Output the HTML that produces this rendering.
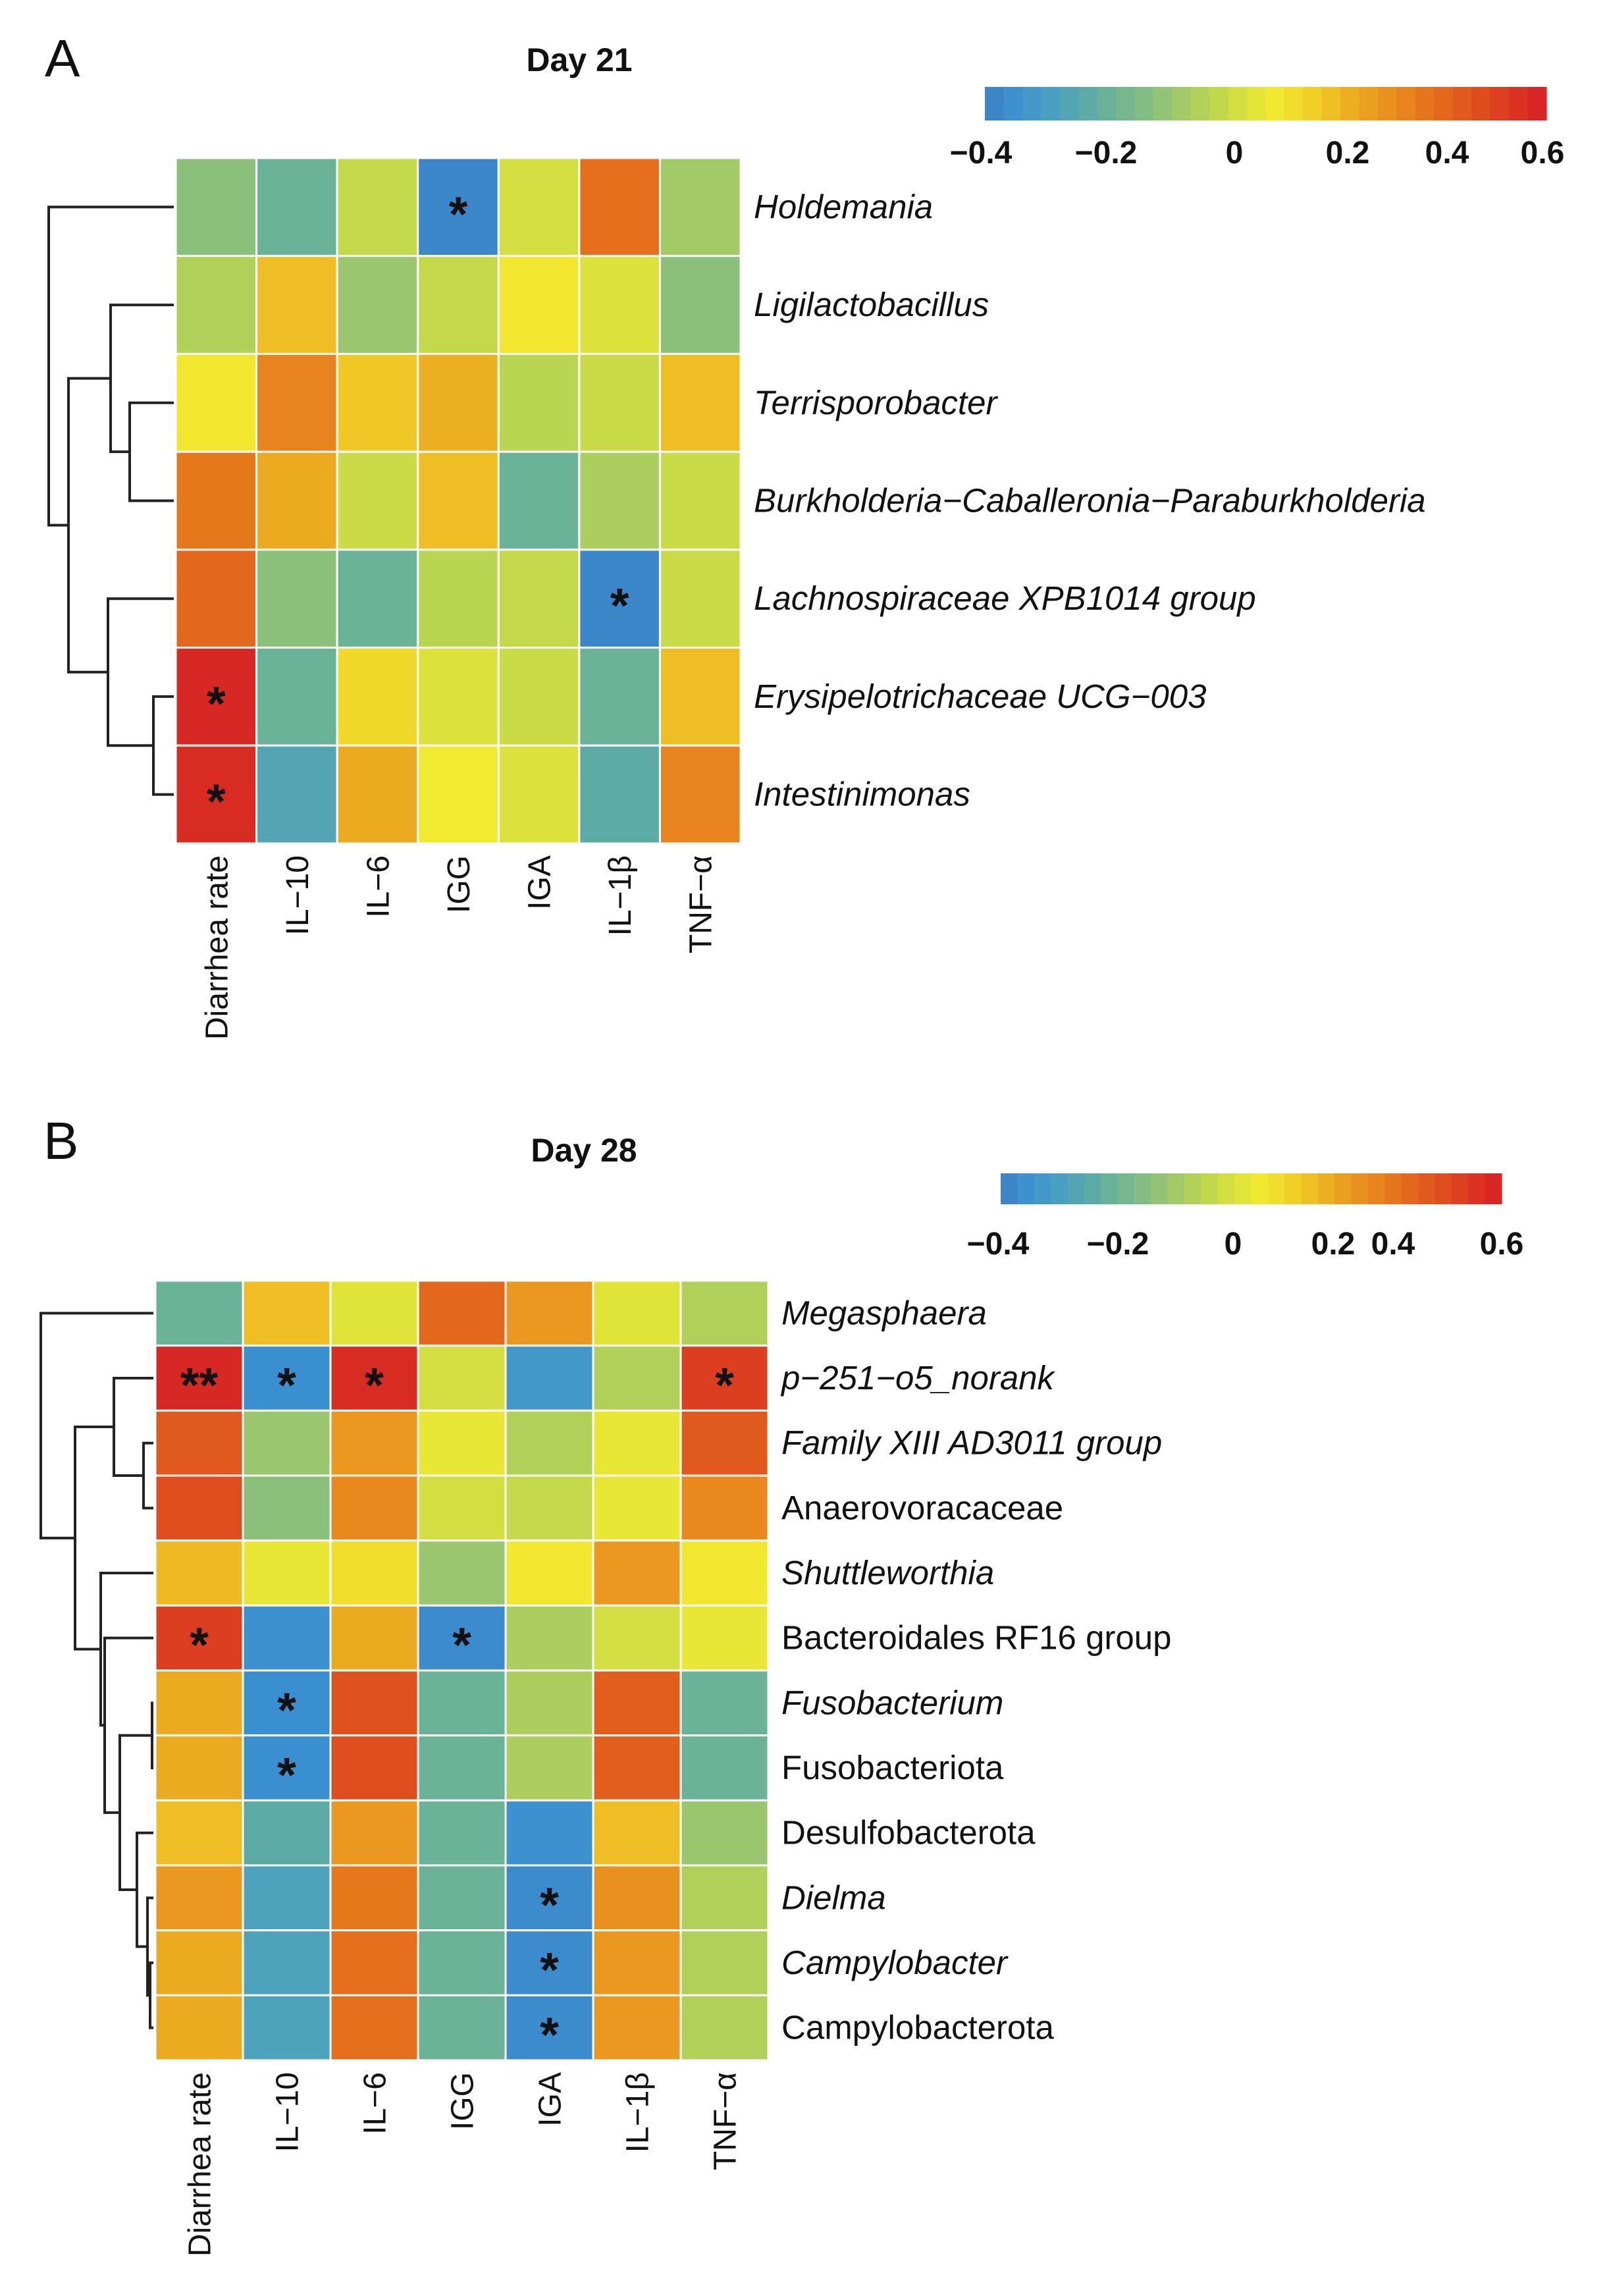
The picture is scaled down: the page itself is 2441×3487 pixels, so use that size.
<!DOCTYPE html>
<html><head><meta charset="utf-8"><style>
html,body{margin:0;padding:0;background:#fff;}
svg{display:block;}
text{font-family:"Liberation Sans",sans-serif;fill:#111;}
</style></head><body>
<svg id="fig" xmlns="http://www.w3.org/2000/svg" width="2441" height="3487" viewBox="0 0 2441 3487"></svg>
<script>
// ---- shared ----
const cols = ["Diarrhea rate","IL\u221210","IL\u22126","IGG","IGA","IL\u22121\u03b2","TNF\u2212\u03b1"];
const cbTicks = ["\u22120.4","\u22120.2","0","0.2","0.4","0.6"];
const cbTickVals = [-0.4,-0.2,0,0.2,0.4,0.6];

// ---- panel A (Day 21) ----
const rowsA = ["Holdemania","Ligilactobacillus","Terrisporobacter","Burkholderia\u2212Caballeronia\u2212Paraburkholderia","Lachnospiraceae XPB1014 group","Erysipelotrichaceae UCG\u2212003","Intestinimonas"];
const italicA = [1,1,1,1,1,1,1];
const valsA = [
 [-0.10,-0.18,0.02,-0.38,0.05,0.40,-0.05],
 [-0.02,0.22,-0.07,0.02,0.13,0.07,-0.10],
 [0.13,0.35,0.20,0.25,0.00,0.03,0.22],
 [0.38,0.26,0.03,0.22,-0.18,-0.03,0.03],
 [0.42,-0.10,-0.18,0.00,0.02,-0.38,0.03],
 [0.58,-0.18,0.16,0.07,0.03,-0.18,0.22],
 [0.57,-0.25,0.26,0.12,0.07,-0.22,0.35]];
const starsA = [
 ["","","","*","","",""],["","","","","","",""],["","","","","","",""],["","","","","","",""],
 ["","","","","","*",""],["*","","","","","",""],["*","","","","","",""]];
const mergesA = [[2,3,67],[1,7,96],[5,6,31],[4,9,100],[8,10,160],[0,11,190]];

// ---- panel B (Day 28) ----
const rowsB = ["Megasphaera","p\u2212251\u2212o5_norank","Family XIII AD3011 group","Anaerovoracaceae","Shuttleworthia","Bacteroidales RF16 group","Fusobacterium","Fusobacteriota","Desulfobacterota","Dielma","Campylobacter","Campylobacterota"];
const italicB = [1,1,1,0,1,0,1,0,0,1,1,0];
const valsB = [
 [-0.18,0.22,0.08,0.42,0.30,0.08,-0.02],
 [0.58,-0.36,0.57,0.05,-0.32,-0.02,0.52],
 [0.45,-0.07,0.30,0.10,-0.02,0.10,0.45],
 [0.48,-0.10,0.34,0.05,0.02,0.10,0.34],
 [0.23,0.10,0.15,-0.07,0.13,0.30,0.13],
 [0.52,-0.35,0.26,-0.37,-0.03,0.05,0.10],
 [0.26,-0.36,0.47,-0.18,-0.03,0.44,-0.18],
 [0.26,-0.36,0.48,-0.18,-0.03,0.44,-0.18],
 [0.22,-0.22,0.30,-0.18,-0.35,0.22,-0.07],
 [0.30,-0.27,0.38,-0.18,-0.37,0.32,-0.02],
 [0.26,-0.27,0.40,-0.18,-0.37,0.30,-0.02],
 [0.26,-0.27,0.40,-0.18,-0.37,0.30,-0.02]];
const starsB = [
 ["","","","","","",""],["**","*","*","","","","*"],["","","","","","",""],["","","","","","",""],
 ["","","","","","",""],["*","","","*","","",""],["","*","","","","",""],["","*","","","","",""],
 ["","","","","","",""],["","","","","*","",""],["","","","","*","",""],["","","","","*","",""]];
const mergesB = [[6,7,2],[10,11,5],[9,13,9],[8,14,25],[12,15,51],[5,16,74],[4,17,80],[2,3,15],[1,19,60],[20,18,119],[0,21,171]];

const NS="http://www.w3.org/2000/svg";
const svg=document.getElementById('fig');
function mk(tag,attrs,parent){const e=document.createElementNS(NS,tag);for(const k in attrs)e.setAttribute(k,attrs[k]);(parent||svg).appendChild(e);return e;}

const stops=[[0,"#3d7fc2"],[0.04,"#3a8fd0"],[0.12,"#4aa0c0"],[0.2,"#62ae9e"],[0.28,"#82bc84"],[0.36,"#a6cc62"],[0.44,"#cedd42"],[0.52,"#f2ea30"],[0.6,"#f0c825"],[0.68,"#eaa020"],[0.76,"#e8801c"],[0.86,"#e0561d"],[1,"#d62025"]];
function hex(h){return [1,3,5].map(i=>parseInt(h.substr(i,2),16));}
function colorOf(v){let f=(v+0.4)/1.0;f=Math.max(0,Math.min(1,f));
 for(let i=1;i<stops.length;i++){if(f<=stops[i][0]){const a=stops[i-1],b=stops[i];const t=(f-a[0])/(b[0]-a[0]);const ca=hex(a[1]),cb=hex(b[1]);
 return "rgb("+ca.map((c,j)=>Math.round(c+(cb[j]-c)*t)).join(",")+")";}}return stops[stops.length-1][1];}

function panel(cfg){
 const g=mk('g',{});
 
 
 const nR=cfg.rows.length,nC=cols.length;
 const cw=(cfg.x1-cfg.x0)/nC,ch=(cfg.y1-cfg.y0)/nR;
 const xS=c=>cfg.x0+c*cw, yS=r=>cfg.y0+r*ch;
 const L=mk('text',{x:cfg.letterX,y:cfg.letterY,'font-size':80},g);L.textContent=cfg.letter;
 
 const T=mk('text',{x:cfg.titleX,y:cfg.titleY,'font-size':50,'font-weight':'bold','text-anchor':'middle'},g);T.textContent=cfg.title;
 
 for(let r=0;r<nR;r++)for(let c=0;c<nC;c++){
  const rc=mk('rect',{x:xS(c),y:yS(r),width:cw,height:ch,fill:colorOf(cfg.vals[r][c]),stroke:'#fff','stroke-width':3},g);
  
  const s=cfg.stars[r][c];
  if(s){const st=mk('text',{x:xS(c)+cw/2,y:yS(r)+ch/2+36,'font-size':74,'text-anchor':'middle','font-weight':'bold'},g);st.textContent=s;
   }
 }
 for(let r=0;r<nR;r++){const t=mk('text',{x:cfg.x1+20,y:yS(r)+ch/2+17,'font-size':51,'font-style':cfg.italic[r]?'italic':'normal'},g);t.textContent=cfg.rows[r];
  }
 for(let c=0;c<nC;c++){const cx=xS(c)+cw/2+17,cy=cfg.y1+18;
  const t=mk('text',{x:0,y:0,'font-size':48,'text-anchor':'end',transform:`translate(${cx},${cy}) rotate(-90)`},g);t.textContent=cols[c];
  }
 const nodeY=[],nodeH=[];
 for(let r=0;r<nR;r++){nodeY.push(yS(r)+ch/2);nodeH.push(0);}
 const leafX=cfg.x0-3;
 const hx=h=>leafX-h;
 const dg=mk('g',{stroke:'#222','stroke-width':4,fill:'none'},g);
 
 cfg.merges.forEach(m=>{const [a,b,h]=m;const x=hx(h);
  const p=mk('path',{d:`M${hx(nodeH[a])},${nodeY[a]}H${x}V${nodeY[b]}H${hx(nodeH[b])}`},dg);
  
  nodeY.push((nodeY[a]+nodeY[b])/2);nodeH.push(h);});
 const cb=mk('g',{},g);
 const N=30,bw=(cfg.cbX1-cfg.cbX0)/N;
 for(let i=0;i<N;i++){const v=-0.4+(i+0.5)/N;const r=mk('rect',{x:cfg.cbX0+i*bw,y:cfg.cbY0,width:bw+0.6,height:cfg.cbY1-cfg.cbY0,fill:colorOf(v)},cb);
  }
 for(let i=0;i<cbTicks.length;i++){const t=mk('text',{x:cfg.tickX[i],y:cfg.tickY,'font-size':48,'font-weight':'bold','text-anchor':'middle'},cb);t.textContent=cbTicks[i];
  }
}

panel({id:'day21',letter:'A',letterX:68,letterY:116,title:'Day 21',titleX:880,titleY:108,
 rows:rowsA,italic:italicA,vals:valsA,stars:starsA,merges:mergesA,
 x0:267,x1:1125,y0:240,y1:1281,
 cbX0:1496,cbX1:2349,cbY0:132,cbY1:183,tickY:248,tickX:[1490,1680,1875,2047,2198,2343]});
panel({id:'day28',letter:'B',letterX:66,letterY:1760,title:'Day 28',titleX:887,titleY:1764,
 rows:rowsB,italic:italicB,vals:valsB,stars:starsB,merges:mergesB,
 x0:236,x1:1167,y0:1945,y1:3129,
 cbX0:1520,cbX1:2281,cbY0:1782,cbY1:1829,tickY:1905,tickX:[1516,1698,1873,2025,2116,2281]});
</script>
</body></html>
